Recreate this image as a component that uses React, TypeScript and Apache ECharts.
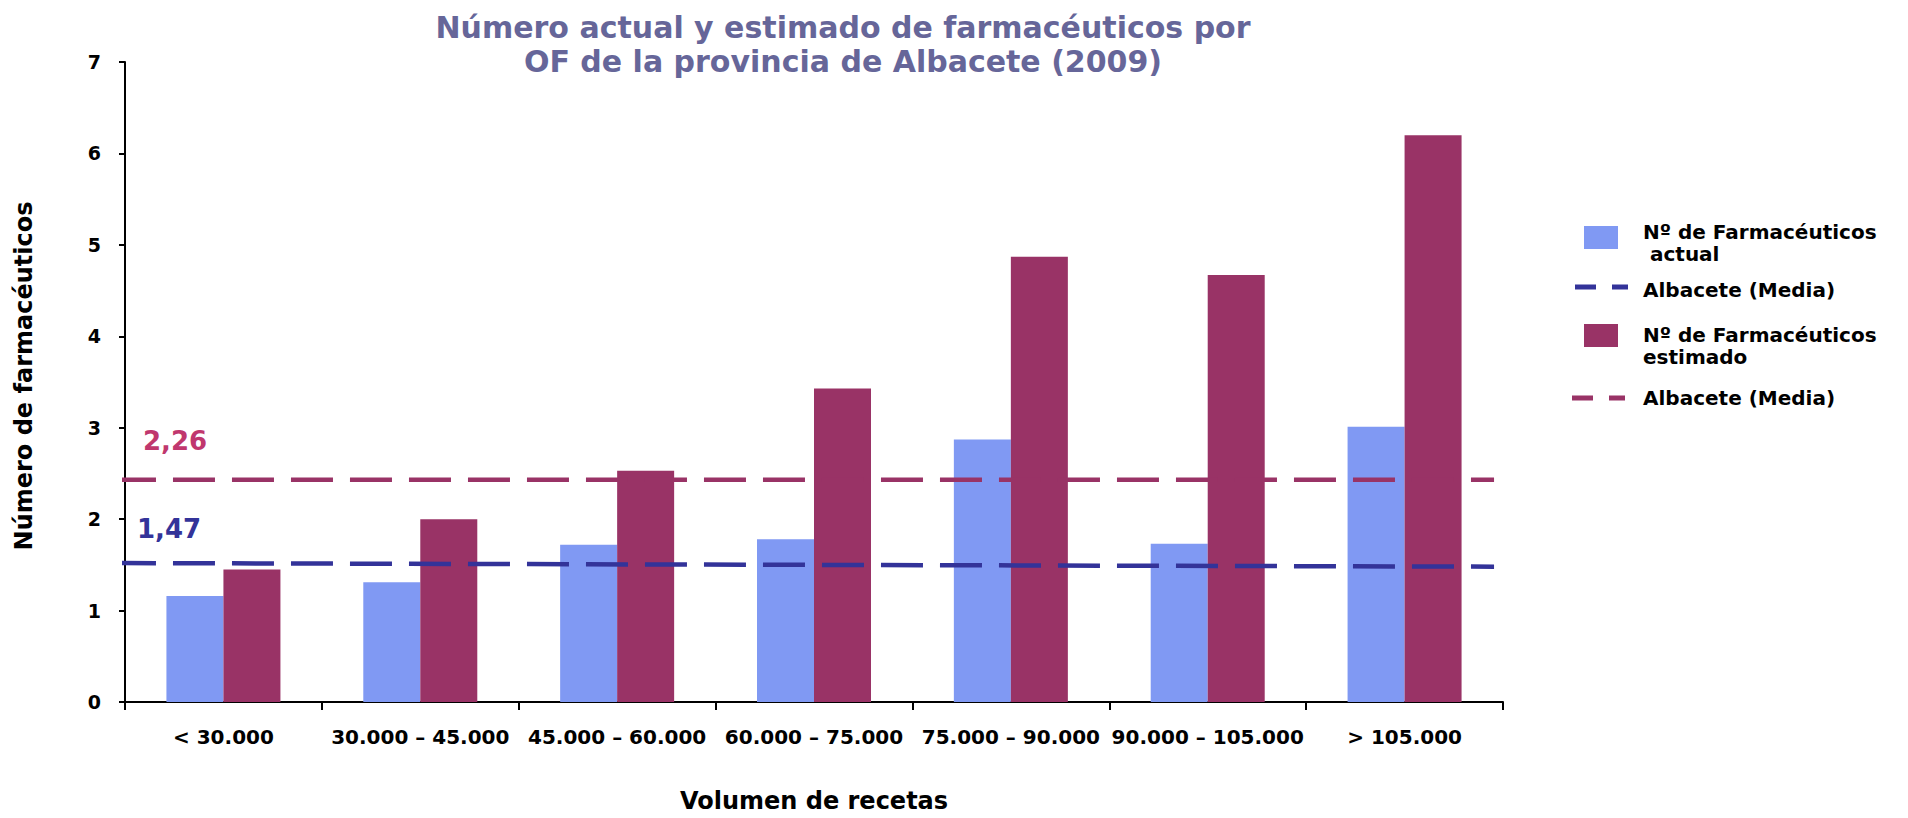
import React, { useEffect, useRef } from "react";
import * as echarts from "echarts";

const categorias = [
  "< 30.000",
  "30.000 – 45.000",
  "45.000 – 60.000",
  "60.000 – 75.000",
  "75.000 – 90.000",
  "90.000 – 105.000",
  "> 105.000",
];
const farmActual = [1.16, 1.31, 1.72, 1.78, 2.87, 1.73, 3.01];
const farmEstimado = [1.45, 2.0, 2.53, 3.43, 4.87, 4.67, 6.2];
// Albacete (Media) lines as drawn: value at start and end of the line
const mediaActualLinea = [1.52, 1.48];
const mediaEstimadoLinea = [2.43, 2.43];
const mediaActualTexto = "1,47";
const mediaEstimadoTexto = "2,26";
const yMin = 0;
const yMax = 7;
const yInterval = 1;

const FONT = "DejaVu Sans";
const BLUE = "#8099F3";
const RED = "#993366";
const BLUE_LINE = "#333399";
const RED_LINE = "#993366";
const RED_LABEL = "#C0376E";

const LINE_START = -0.008;
const LINE_END = 0.9935;

export default function App() {
  const ref = useRef<HTMLDivElement>(null);
  useEffect(() => {
    if (!ref.current) return;
    const chart = echarts.init(ref.current, null, { renderer: "svg" });
    const option: any = {
      animation: false,
      backgroundColor: "#ffffff",
      title: {
        text: "Número actual y estimado de farmacéuticos por\nOF de la provincia de Albacete (2009)",
        left: 843,
        top: 10,
        padding: 0,
        textAlign: "center",
        textStyle: {
          fontFamily: FONT,
          fontSize: 30,
          fontWeight: "bold",
          color: "#666699",
          lineHeight: 34,
        },
      },
      grid: { left: 125, right: 405, top: 62, bottom: 114, containLabel: false },
      xAxis: [
        {
          type: "category",
          data: categorias,
          axisLine: { lineStyle: { color: "#000", width: 2 } },
          axisTick: { show: true, length: 8, lineStyle: { color: "#000", width: 2 } },
          axisLabel: {
            interval: 0,
            margin: 25,
            fontFamily: FONT,
            fontSize: 20,
            fontWeight: "bold",
            color: "#000",
          },
          name: "Volumen de recetas",
          nameLocation: "middle",
          nameGap: 87,
          nameTextStyle: { fontFamily: FONT, fontSize: 24, fontWeight: "bold", color: "#000" },
          splitLine: { show: false },
        },
        { type: "value", min: 0, max: 1, show: false },
      ],
      yAxis: {
        type: "value",
        min: yMin,
        max: yMax,
        interval: yInterval,
        axisLine: { show: true, lineStyle: { color: "#000", width: 2 } },
        axisTick: { show: true, length: 6, lineStyle: { color: "#000", width: 2 } },
        splitLine: { show: false },
        axisLabel: {
          margin: 24,
          fontFamily: FONT,
          fontSize: 19,
          fontWeight: "bold",
          color: "#000",
        },
        name: "Número de farmacéuticos",
        nameLocation: "middle",
        nameGap: 89,
        nameRotate: 90,
        nameTextStyle: {
          fontFamily: FONT,
          fontSize: 24,
          fontWeight: "bold",
          color: "#000",
          padding: [0, 0, 0, 12],
        },
      },
      series: [
        {
          name: "Nº de Farmacéuticos actual",
          type: "bar",
          data: farmActual,
          barWidth: 57,
          barGap: "0%",
          itemStyle: { color: BLUE },
        },
        {
          name: "Nº de Farmacéuticos estimado",
          type: "bar",
          data: farmEstimado,
          barWidth: 57,
          barGap: "0%",
          itemStyle: { color: RED },
        },
        {
          name: "Albacete (Media) estimado",
          type: "line",
          xAxisIndex: 1,
          yAxisIndex: 0,
          clip: false,
          symbol: "none",
          data: [
            [LINE_START, mediaEstimadoLinea[0]],
            [LINE_END, mediaEstimadoLinea[1]],
          ],
          lineStyle: { color: RED_LINE, width: 4.5, type: [42, 17] },
          z: 5,
        },
        {
          name: "Albacete (Media) actual",
          type: "line",
          xAxisIndex: 1,
          yAxisIndex: 0,
          clip: false,
          symbol: "none",
          data: [
            [LINE_START, mediaActualLinea[0]],
            [LINE_END, mediaActualLinea[1]],
          ],
          lineStyle: { color: BLUE_LINE, width: 4.5, type: [42, 17] },
          z: 5,
        },
      ],
    };
    chart.setOption(option);

    const pRed = chart.convertToPixel({ seriesIndex: 2 }, [LINE_START, mediaEstimadoLinea[0]]) as number[];
    const pBlue = chart.convertToPixel({ seriesIndex: 3 }, [LINE_START, mediaActualLinea[0]]) as number[];

    const legendText = (text: string, x: number, y: number) => ({
      type: "text",
      x,
      y,
      style: {
        text,
        fontFamily: FONT,
        fontSize: 20,
        fontWeight: "bold",
        fill: "#000",
        lineHeight: 22,
        verticalAlign: "top",
      },
    });

    chart.setOption({
      graphic: [
        { type: "rect", shape: { x: 1584, y: 226, width: 34, height: 23 }, style: { fill: BLUE } },
        legendText("Nº de Farmacéuticos\n actual", 1643, 221),
        {
          type: "line",
          shape: { x1: 1575, y1: 287, x2: 1628, y2: 287 },
          style: { stroke: BLUE_LINE, lineWidth: 5, lineDash: [21, 16] },
        },
        legendText("Albacete (Media)", 1643, 279),
        { type: "rect", shape: { x: 1584, y: 324, width: 34, height: 23 }, style: { fill: RED } },
        legendText("Nº de Farmacéuticos\nestimado", 1643, 324),
        {
          type: "line",
          shape: { x1: 1572, y1: 398, x2: 1625, y2: 398 },
          style: { stroke: RED_LINE, lineWidth: 5, lineDash: [21, 16] },
        },
        legendText("Albacete (Media)", 1643, 387),
        {
          type: "text",
          x: pRed[0] + 29,
          y: pRed[1] - 39,
          style: {
            text: mediaEstimadoTexto,
            fontFamily: FONT,
            fontSize: 26,
            fontWeight: "bold",
            fill: RED_LABEL,
            verticalAlign: "middle",
          },
        },
        {
          type: "text",
          x: pBlue[0] + 23,
          y: pBlue[1] - 34,
          style: {
            text: mediaActualTexto,
            fontFamily: FONT,
            fontSize: 26,
            fontWeight: "bold",
            fill: BLUE_LINE,
            verticalAlign: "middle",
          },
        },
      ],
    });

    return () => chart.dispose();
  }, []);
  return (
    <div
      ref={ref}
      style={{ position: "fixed", left: 0, top: 0, width: 1908, height: 818, background: "#fff" }}
    />
  );
}
